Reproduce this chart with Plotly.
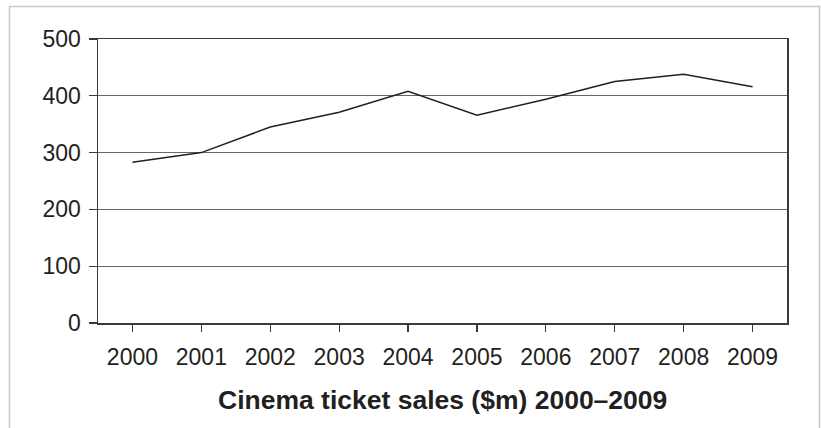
import plotly.graph_objects as go

years = ["2000", "2001", "2002", "2003", "2004", "2005", "2006", "2007", "2008", "2009"]
sales = [283, 300, 345, 371, 408, 366, 394, 425, 438, 416]
y_ticks = [0, 100, 200, 300, 400, 500]
title_text = "Cinema ticket sales ($m) 2000–2009"

W, H = 821, 428
# plot area in screen pixels
px_left, px_right, px_top, px_bottom = 98, 787, 39, 323
L, R, T, B = px_left, W - px_right, px_top, H - px_bottom
pw, ph = W - L - R, H - T - B

def sx(px):
    return (px - px_left) / pw

def sy(py):
    return (px_bottom - py) / ph

fig = go.Figure()
fig.add_trace(go.Scatter(
    x=years, y=sales, mode="lines",
    line=dict(color="#231f20", width=1.5),
    hoverinfo="skip", showlegend=False,
))

font_family = "Liberation Sans, Arial, sans-serif"
fig.update_layout(
    width=W, height=H,
    margin=dict(l=L, r=R, t=T, b=B, pad=0),
    paper_bgcolor="white", plot_bgcolor="white",
    font=dict(family=font_family, color="#231f20"),
    showlegend=False,
    xaxis=dict(
        type="category", range=[-0.5, 9.5],
        showgrid=False, zeroline=False,
        showline=True, linecolor="#3a3a3a", linewidth=1.5, mirror=True,
        ticks="outside", ticklen=7, tickwidth=1.2, tickcolor="#3a3a3a",
        tickfont=dict(size=23, family=font_family, color="#231f20"),
        ticklabelstandoff=6,
    ),
    yaxis=dict(
        range=[0, 500], tickvals=y_ticks,
        showgrid=True, gridcolor="#666666", gridwidth=1,
        zeroline=False,
        showline=True, linecolor="#3a3a3a", linewidth=1.5, mirror=True,
        ticks="outside", ticklen=8, tickwidth=1.2, tickcolor="#3a3a3a",
        tickfont=dict(size=23, family=font_family, color="#231f20"),
        ticklabelstandoff=3,
    ),
    shapes=[dict(
        type="rect", xref="paper", yref="paper",
        x0=sx(9.5), x1=sx(819.5),
        y0=sy(470), y1=sy(6.5),
        line=dict(color="#c8c8c8", width=1.5), fillcolor="rgba(0,0,0,0)",
        layer="below",
    )],
    annotations=[dict(
        text="<b>" + title_text + "</b>",
        xref="paper", yref="paper",
        x=0.5, y=sy(400),
        xanchor="center", yanchor="middle",
        showarrow=False,
        font=dict(size=26.5, family=font_family, color="#231f20"),
    )],
)

fig.write_html(
    "out.html",
    config={"displayModeBar": False, "staticPlot": True},
    post_script="document.body.style.margin='0';document.body.style.overflow='hidden';",
)
